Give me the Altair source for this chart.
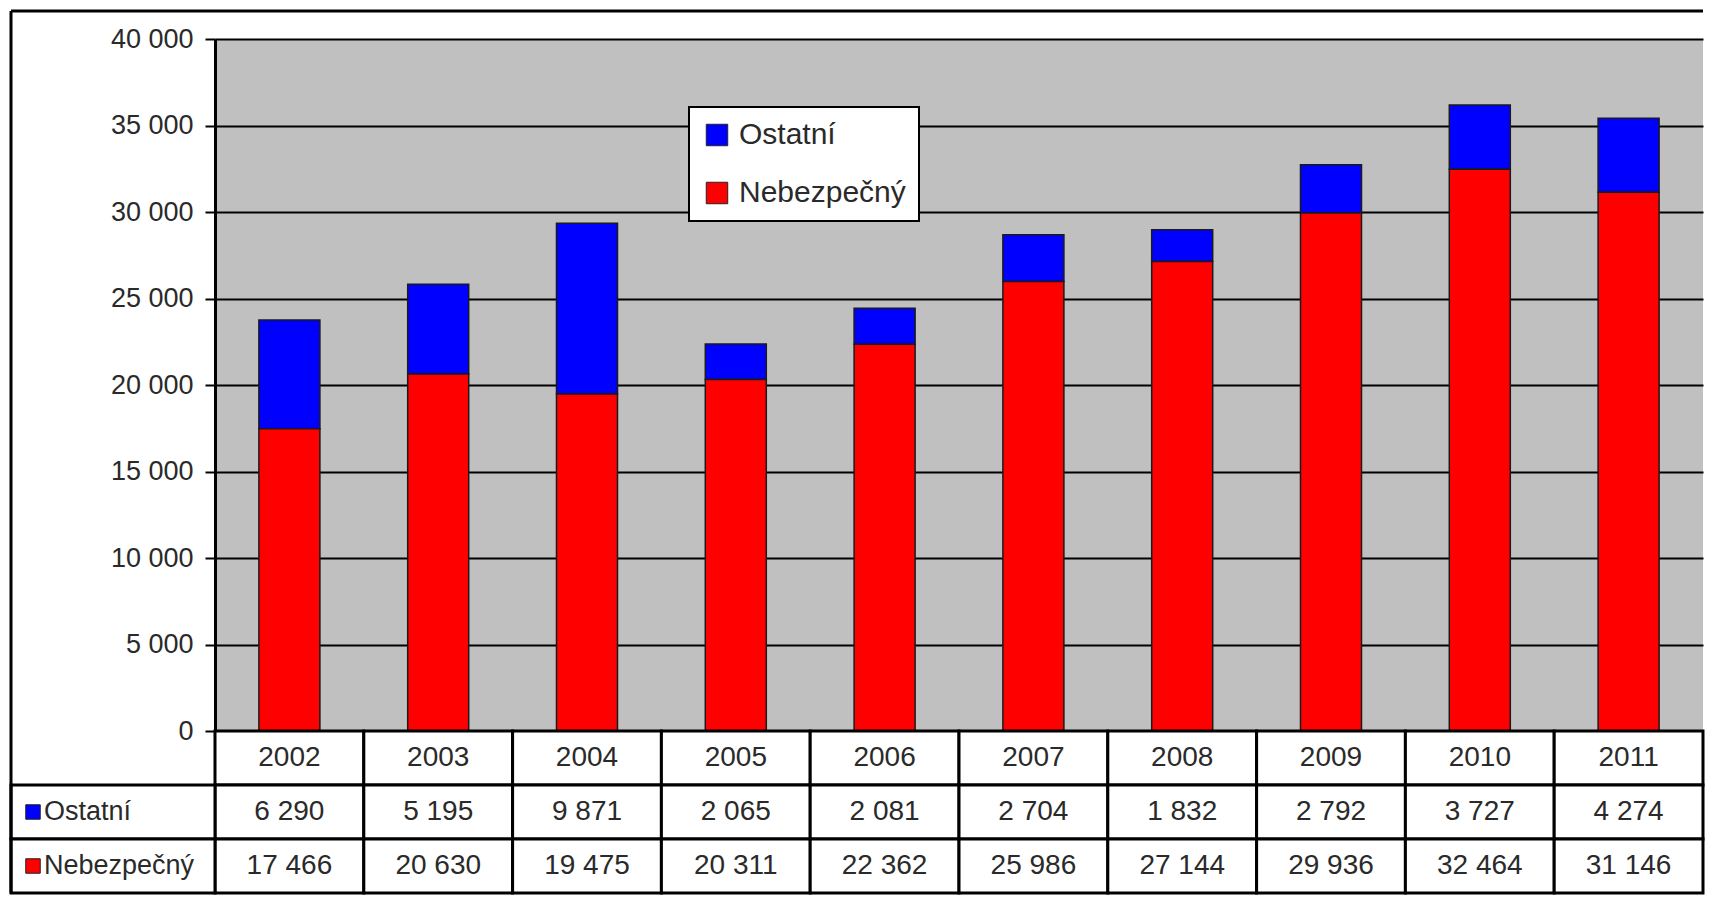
import altair as alt
import pandas as pd

years = ["2002", "2003", "2004", "2005", "2006", "2007", "2008", "2009", "2010", "2011"]
ostatni = [6290, 5195, 9871, 2065, 2081, 2704, 1832, 2792, 3727, 4274]
nebezpecny = [17466, 20630, 19475, 20311, 22362, 25986, 27144, 29936, 32464, 31146]
series = ["Ostatní", "Nebezpečný"]
colors = ["#0000ff", "#ff0000"]
y_ticks = [0, 5000, 10000, 15000, 20000, 25000, 30000, 35000, 40000]
table_rows = ["rok", "Ostatní", "Nebezpečný"]

FONT = "Liberation Sans Narrow, Arial Narrow, Liberation Sans, Arial, sans-serif"
W = 1488
H = 692
ROW = 54
LEFT = 204
TOP = 28


def fmt(v):
    return f"{v:,}".replace(",", " ")


bars_df = pd.DataFrame({
    "year": years * 2,
    "series": [series[0]] * len(years) + [series[1]] * len(years),
    "value": ostatni + nebezpecny,
    "ord": [1] * len(years) + [0] * len(years),
})

tab_records = []
for i, yr in enumerate(years):
    tab_records.append({"year": yr, "row": "rok", "text": yr})
    tab_records.append({"year": yr, "row": "Ostatní", "text": fmt(ostatni[i])})
    tab_records.append({"year": yr, "row": "Nebezpečný", "text": fmt(nebezpecny[i])})
tab_df = pd.DataFrame(tab_records)
lab_df = pd.DataFrame({"row": series, "color": colors})
one = pd.DataFrame({"k": [0]})

# ---- top: stacked bars ----
bars = alt.Chart(bars_df).mark_bar(stroke="#1a1a1a", strokeWidth=1.5).encode(
    x=alt.X("year:N", sort=years, axis=None,
            scale=alt.Scale(paddingInner=0.59, paddingOuter=0.295)),
    y=alt.Y("value:Q", stack="zero",
            scale=alt.Scale(domain=[0, 40000], nice=False),
            axis=alt.Axis(values=y_ticks, title=None, grid=True, gridColor="black",
                          gridWidth=2, domainColor="black", domainWidth=3,
                          tickColor="black", tickWidth=2, tickSize=10, labelPadding=12,
                          labelFont=FONT, labelFontSize=27, labelColor="#2a2a2a",
                          labelExpr="replace(format(datum.value, ','), ',', ' ')")),
    color=alt.Color("series:N", scale=alt.Scale(domain=series, range=colors),
                    legend=alt.Legend(orient="none", legendX=474, legendY=68,
                                      direction="vertical", title=None,
                                      fillColor="white", strokeColor="black",
                                      padding=13, rowPadding=28,
                                      symbolType="square", symbolSize=460,
                                      symbolStrokeColor="#222", symbolStrokeWidth=1,
                                      symbolOpacity=1, labelLimit=400,
                                      labelFont=FONT, labelFontSize=30,
                                      labelColor="#2a2a2a", labelOffset=7)),
    order=alt.Order("ord:Q"),
)
frame_v = alt.Chart(one).mark_rule(color="black", strokeWidth=3).encode(
    x=alt.value(-LEFT), y=alt.value(-TOP), y2=alt.value(H))
frame_h = alt.Chart(one).mark_rule(color="black", strokeWidth=3).encode(
    x=alt.value(-LEFT), x2=alt.value(W), y=alt.value(-TOP))

top = alt.layer(bars, frame_v, frame_h).properties(
    width=W, height=H, view=alt.ViewBackground(fill="#c0c0c0", stroke=None))

# ---- bottom: data table ----
x_tab = alt.X("year:N", sort=years, axis=None,
              scale=alt.Scale(paddingInner=0, paddingOuter=0))
y_tab = alt.Y("row:N", sort=table_rows, axis=None,
              scale=alt.Scale(domain=table_rows, paddingInner=0, paddingOuter=0))

cells = alt.Chart(tab_df).mark_rect(fill="white", stroke="black", strokeWidth=3).encode(
    x=x_tab, y=y_tab)
cell_text = alt.Chart(tab_df).mark_text(font=FONT, fontSize=28, color="#2a2a2a").encode(
    x=x_tab, y=y_tab, text="text:N")
lab_cells = alt.Chart(lab_df).mark_rect(fill="white", stroke="black", strokeWidth=3).encode(
    x=alt.value(-LEFT), x2=alt.value(0), y=y_tab)
lab_sq = alt.Chart(lab_df).mark_point(shape="square", filled=True, size=210, opacity=1,
                                      stroke="#222", strokeWidth=1).encode(
    x=alt.value(-182), y=y_tab, fill=alt.Fill("color:N", scale=None))
lab_text = alt.Chart(lab_df).mark_text(align="left", font=FONT, fontSize=27,
                                       color="#2a2a2a").encode(
    x=alt.value(-171), y=y_tab, text="row:N")
frame_t = alt.Chart(one).mark_rule(color="black", strokeWidth=3).encode(
    x=alt.value(-LEFT), y=alt.value(0), y2=alt.value(3 * ROW))

table = alt.layer(cells, cell_text, lab_cells, lab_sq, lab_text, frame_t).properties(
    width=W, height=3 * ROW, view=alt.ViewBackground(stroke=None))

chart = alt.vconcat(top, table, spacing=0, bounds="flush").resolve_scale(
    x="independent", y="independent", color="independent"
).resolve_legend(color="independent").properties(
    padding={"left": 1, "top": 1, "right": 0, "bottom": 0},
    background="white",
).configure_view(stroke=None).configure_legend(strokeWidth=2)

chart.save("out.html", embed_options={"renderer": "svg", "actions": False})
